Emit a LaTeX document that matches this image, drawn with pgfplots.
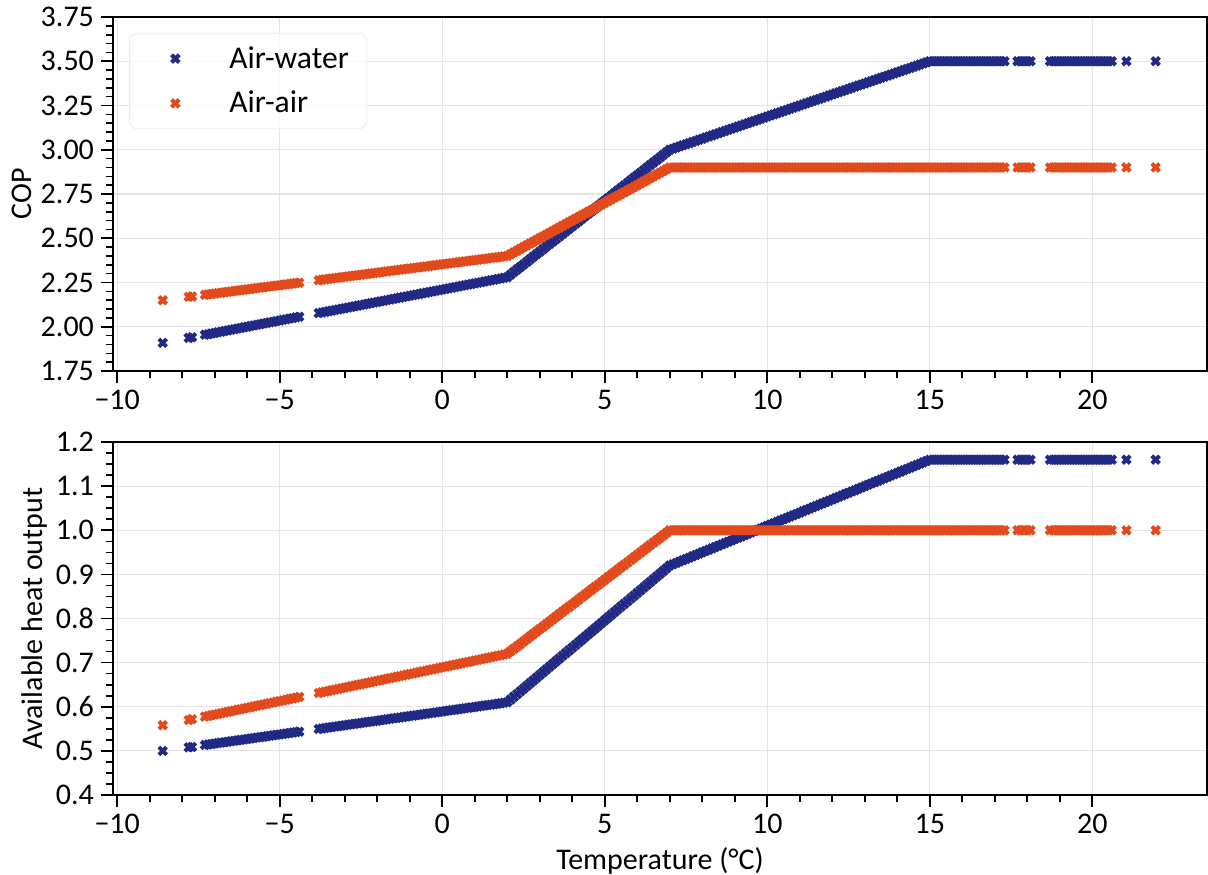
\documentclass[border=0pt]{standalone}
\usepackage{fontspec}
\setmainfont{Carlito}
\usepackage{pgfplots}
\usepackage{pgfplotstable}
\pgfplotsset{compat=1.18}
\definecolor{cblue}{RGB}{32,41,132}
\definecolor{corange}{RGB}{226,74,27}
\pgfplotstableread{
T aw aa hw ha
-8.6 1.909 2.150 0.500 0.558
-7.8 1.937 2.169 0.508 0.570
-7.7 1.941 2.171 0.509 0.572
-7.3 1.955 2.1805 0.5135 0.5777
-7.1 1.962 2.1852 0.5155 0.5808
-6.9 1.969 2.1900 0.5176 0.5838
-6.7 1.976 2.1947 0.5197 0.5869
-6.5 1.983 2.1994 0.5218 0.5900
-6.3 1.990 2.2041 0.5238 0.5930
-6.1 1.997 2.2088 0.5259 0.5961
-5.9 2.004 2.2136 0.5280 0.5991
-5.7 2.011 2.2183 0.5301 0.6022
-5.5 2.018 2.2230 0.5322 0.6053
-5.3 2.025 2.2277 0.5342 0.6083
-5.1 2.032 2.2324 0.5363 0.6114
-4.9 2.039 2.2372 0.5384 0.6144
-4.7 2.046 2.2419 0.5405 0.6175
-4.5 2.053 2.2466 0.5425 0.6206
-3.8 2.077 2.2631 0.5498 0.6313
-3.6 2.084 2.2678 0.5519 0.6343
-3.4 2.091 2.2726 0.5539 0.6374
-3.2 2.098 2.2773 0.5560 0.6404
-3.0 2.105 2.2820 0.5581 0.6435
-2.8 2.112 2.2867 0.5602 0.6466
-2.6 2.119 2.2914 0.5623 0.6496
-2.4 2.126 2.2962 0.5643 0.6527
-2.2 2.133 2.3009 0.5664 0.6557
-2.0 2.140 2.3056 0.5685 0.6588
-1.8 2.147 2.3103 0.5706 0.6619
-1.6 2.154 2.3150 0.5726 0.6649
-1.4 2.161 2.3198 0.5747 0.6680
-1.2 2.168 2.3245 0.5768 0.6710
-1.0 2.175 2.3292 0.5789 0.6741
-0.8 2.182 2.3339 0.5809 0.6772
-0.6 2.189 2.3386 0.5830 0.6802
-0.4 2.196 2.3434 0.5851 0.6833
-0.2 2.203 2.3481 0.5872 0.6863
0.0 2.210 2.3528 0.5892 0.6894
0.2 2.217 2.3575 0.5913 0.6925
0.4 2.224 2.3622 0.5934 0.6955
0.6 2.231 2.3670 0.5955 0.6986
0.8 2.238 2.3717 0.5975 0.7016
1.0 2.245 2.3764 0.5996 0.7047
1.2 2.252 2.3811 0.6017 0.7078
1.4 2.259 2.3858 0.6038 0.7108
1.6 2.266 2.3906 0.6058 0.7139
1.8 2.273 2.3953 0.6079 0.7169
2.0 2.280 2.4000 0.6100 0.7200
2.2 2.3088 2.42 0.6224 0.7312
2.4 2.3376 2.44 0.6348 0.7424
2.6 2.3664 2.46 0.6472 0.7536
2.8 2.3952 2.48 0.6596 0.7648
3.0 2.4240 2.50 0.6720 0.7760
3.2 2.4528 2.52 0.6844 0.7872
3.4 2.4816 2.54 0.6968 0.7984
3.6 2.5104 2.56 0.7092 0.8096
3.8 2.5392 2.58 0.7216 0.8208
4.0 2.5680 2.60 0.7340 0.8320
4.2 2.5968 2.62 0.7464 0.8432
4.4 2.6256 2.64 0.7588 0.8544
4.6 2.6544 2.66 0.7712 0.8656
4.8 2.6832 2.68 0.7836 0.8768
5.0 2.7120 2.70 0.7960 0.8880
5.2 2.7408 2.72 0.8084 0.8992
5.4 2.7696 2.74 0.8208 0.9104
5.6 2.7984 2.76 0.8332 0.9216
5.8 2.8272 2.78 0.8456 0.9328
6.0 2.8560 2.80 0.8580 0.9440
6.2 2.8848 2.82 0.8704 0.9552
6.4 2.9136 2.84 0.8828 0.9664
6.6 2.9424 2.86 0.8952 0.9776
6.8 2.9712 2.88 0.9076 0.9888
7.0 3.0000 2.90 0.9200 1.0000
7.2 3.0125 2.90 0.926 1.0
7.4 3.0250 2.90 0.932 1.0
7.6 3.0375 2.90 0.938 1.0
7.8 3.0500 2.90 0.944 1.0
8.0 3.0625 2.90 0.950 1.0
8.2 3.0750 2.90 0.956 1.0
8.4 3.0875 2.90 0.962 1.0
8.6 3.1000 2.90 0.968 1.0
8.8 3.1125 2.90 0.974 1.0
9.0 3.1250 2.90 0.980 1.0
9.2 3.1375 2.90 0.986 1.0
9.4 3.1500 2.90 0.992 1.0
9.6 3.1625 2.90 0.998 1.0
9.8 3.1750 2.90 1.004 1.0
10.0 3.1875 2.90 1.010 1.0
10.2 3.2000 2.90 1.016 1.0
10.4 3.2125 2.90 1.022 1.0
10.6 3.2250 2.90 1.028 1.0
10.8 3.2375 2.90 1.034 1.0
11.0 3.2500 2.90 1.040 1.0
11.2 3.2625 2.90 1.046 1.0
11.4 3.2750 2.90 1.052 1.0
11.6 3.2875 2.90 1.058 1.0
11.8 3.3000 2.90 1.064 1.0
12.0 3.3125 2.90 1.070 1.0
12.2 3.3250 2.90 1.076 1.0
12.4 3.3375 2.90 1.082 1.0
12.6 3.3500 2.90 1.088 1.0
12.8 3.3625 2.90 1.094 1.0
13.0 3.3750 2.90 1.100 1.0
13.2 3.3875 2.90 1.106 1.0
13.4 3.4000 2.90 1.112 1.0
13.6 3.4125 2.90 1.118 1.0
13.8 3.4250 2.90 1.124 1.0
14.0 3.4375 2.90 1.130 1.0
14.2 3.4500 2.90 1.136 1.0
14.4 3.4625 2.90 1.142 1.0
14.6 3.4750 2.90 1.148 1.0
14.8 3.4875 2.90 1.154 1.0
15.0 3.5000 2.90 1.160 1.0
15.2 3.5 2.9 1.16 1.0
15.4 3.5 2.9 1.16 1.0
15.6 3.5 2.9 1.16 1.0
15.8 3.5 2.9 1.16 1.0
16.0 3.5 2.9 1.16 1.0
16.2 3.5 2.9 1.16 1.0
16.4 3.5 2.9 1.16 1.0
16.6 3.5 2.9 1.16 1.0
16.8 3.5 2.9 1.16 1.0
17.0 3.5 2.9 1.16 1.0
17.2 3.5 2.9 1.16 1.0
17.3 3.5 2.9 1.16 1.0
17.7 3.5 2.9 1.16 1.0
17.9 3.5 2.9 1.16 1.0
18.1 3.5 2.9 1.16 1.0
18.7 3.5 2.9 1.16 1.0
18.9 3.5 2.9 1.16 1.0
19.1 3.5 2.9 1.16 1.0
19.3 3.5 2.9 1.16 1.0
19.5 3.5 2.9 1.16 1.0
19.7 3.5 2.9 1.16 1.0
19.9 3.5 2.9 1.16 1.0
20.1 3.5 2.9 1.16 1.0
20.3 3.5 2.9 1.16 1.0
20.5 3.5 2.9 1.16 1.0
20.6 3.5 2.9 1.16 1.0
21.05 3.5 2.9 1.16 1.0
21.95 3.5 2.9 1.16 1.0
}\datatable

\pgfplotstableread{
T aw aa hw ha
-7.2 1.958 2.1829 0.5145 0.5792
-7.0 1.965 2.1876 0.5166 0.5823
-6.8 1.972 2.1923 0.5187 0.5854
-6.6 1.979 2.1970 0.5207 0.5884
-6.4 1.986 2.2018 0.5228 0.5915
-6.2 1.993 2.2065 0.5249 0.5945
-6.0 2.000 2.2112 0.5270 0.5976
-5.8 2.007 2.2159 0.5290 0.6007
-5.6 2.014 2.2206 0.5311 0.6037
-5.4 2.021 2.2254 0.5332 0.6068
-5.2 2.028 2.2301 0.5353 0.6098
-5.0 2.035 2.2348 0.5373 0.6129
-4.8 2.042 2.2395 0.5394 0.6160
-4.6 2.049 2.2442 0.5415 0.6190
-4.4 2.056 2.2490 0.5436 0.6221
-3.7 2.0805 2.2655 0.5508 0.6328
-3.5 2.0875 2.2702 0.5529 0.6359
-3.3 2.0945 2.2749 0.5550 0.6389
-3.1 2.1015 2.2796 0.5571 0.6420
-2.9 2.1085 2.2844 0.5591 0.6450
-2.7 2.1155 2.2891 0.5612 0.6481
-2.5 2.1225 2.2938 0.5633 0.6512
-2.3 2.1295 2.2985 0.5654 0.6542
-2.1 2.1365 2.3032 0.5674 0.6573
-1.9 2.1435 2.3080 0.5695 0.6603
-1.7 2.1505 2.3127 0.5716 0.6634
-1.5 2.1575 2.3174 0.5737 0.6665
-1.3 2.1645 2.3221 0.5757 0.6695
-1.1 2.1715 2.3268 0.5778 0.6726
-0.9 2.1785 2.3316 0.5799 0.6756
-0.7 2.1855 2.3363 0.5820 0.6787
-0.5 2.1925 2.3410 0.5841 0.6818
-0.3 2.1995 2.3457 0.5861 0.6848
-0.1 2.2065 2.3504 0.5882 0.6879
0.1 2.2135 2.3552 0.5903 0.6909
0.3 2.2205 2.3599 0.5924 0.6940
0.5 2.2275 2.3646 0.5944 0.6971
0.7 2.2345 2.3693 0.5965 0.7001
0.9 2.2415 2.3740 0.5986 0.7032
1.1 2.2485 2.3788 0.6007 0.7062
1.3 2.2555 2.3835 0.6027 0.7093
1.5 2.2625 2.3882 0.6048 0.7124
1.7 2.2695 2.3929 0.6069 0.7154
1.9 2.2765 2.3976 0.6090 0.7185
2.1 2.2944 2.41 0.6162 0.7256
2.3 2.3232 2.43 0.6286 0.7368
2.5 2.3520 2.45 0.6410 0.7480
2.7 2.3808 2.47 0.6534 0.7592
2.9 2.4096 2.49 0.6658 0.7704
3.1 2.4384 2.51 0.6782 0.7816
3.3 2.4672 2.53 0.6906 0.7928
3.5 2.4960 2.55 0.7030 0.8040
3.7 2.5248 2.57 0.7154 0.8152
3.9 2.5536 2.59 0.7278 0.8264
4.1 2.5824 2.61 0.7402 0.8376
4.3 2.6112 2.63 0.7526 0.8488
4.5 2.6400 2.65 0.7650 0.8600
4.7 2.6688 2.67 0.7774 0.8712
4.9 2.6976 2.69 0.7898 0.8824
5.1 2.7264 2.71 0.8022 0.8936
5.3 2.7552 2.73 0.8146 0.9048
5.5 2.7840 2.75 0.8270 0.9160
5.7 2.8128 2.77 0.8394 0.9272
5.9 2.8416 2.79 0.8518 0.9384
6.1 2.8704 2.81 0.8642 0.9496
6.3 2.8992 2.83 0.8766 0.9608
6.5 2.9280 2.85 0.8890 0.9720
6.7 2.9568 2.87 0.9014 0.9832
6.9 2.9856 2.89 0.9138 0.9944
7.1 3.0063 2.90 0.923 1.0
7.3 3.0188 2.90 0.929 1.0
7.5 3.0313 2.90 0.935 1.0
7.7 3.0438 2.90 0.941 1.0
7.9 3.0563 2.90 0.947 1.0
8.1 3.0688 2.90 0.953 1.0
8.3 3.0813 2.90 0.959 1.0
8.5 3.0938 2.90 0.965 1.0
8.7 3.1063 2.90 0.971 1.0
8.9 3.1188 2.90 0.977 1.0
9.1 3.1313 2.90 0.983 1.0
9.3 3.1438 2.90 0.989 1.0
9.5 3.1563 2.90 0.995 1.0
9.7 3.1688 2.90 1.001 1.0
9.9 3.1813 2.90 1.007 1.0
10.1 3.1938 2.90 1.013 1.0
10.3 3.2063 2.90 1.019 1.0
10.5 3.2188 2.90 1.025 1.0
10.7 3.2313 2.90 1.031 1.0
10.9 3.2438 2.90 1.037 1.0
11.1 3.2563 2.90 1.043 1.0
11.3 3.2688 2.90 1.049 1.0
11.5 3.2813 2.90 1.055 1.0
11.7 3.2938 2.90 1.061 1.0
11.9 3.3063 2.90 1.067 1.0
12.1 3.3188 2.90 1.073 1.0
12.3 3.3313 2.90 1.079 1.0
12.5 3.3438 2.90 1.085 1.0
12.7 3.3563 2.90 1.091 1.0
12.9 3.3688 2.90 1.097 1.0
13.1 3.3813 2.90 1.103 1.0
13.3 3.3938 2.90 1.109 1.0
13.5 3.4063 2.90 1.115 1.0
13.7 3.4188 2.90 1.121 1.0
13.9 3.4313 2.90 1.127 1.0
14.1 3.4438 2.90 1.133 1.0
14.3 3.4563 2.90 1.139 1.0
14.5 3.4688 2.90 1.145 1.0
14.7 3.4813 2.90 1.151 1.0
14.9 3.4938 2.90 1.157 1.0
15.1 3.5 2.9 1.16 1.0
15.3 3.5 2.9 1.16 1.0
15.5 3.5 2.9 1.16 1.0
15.7 3.5 2.9 1.16 1.0
15.9 3.5 2.9 1.16 1.0
16.1 3.5 2.9 1.16 1.0
16.3 3.5 2.9 1.16 1.0
16.5 3.5 2.9 1.16 1.0
16.7 3.5 2.9 1.16 1.0
16.9 3.5 2.9 1.16 1.0
17.1 3.5 2.9 1.16 1.0
17.8 3.5 2.9 1.16 1.0
18.0 3.5 2.9 1.16 1.0
18.8 3.5 2.9 1.16 1.0
19.0 3.5 2.9 1.16 1.0
19.2 3.5 2.9 1.16 1.0
19.4 3.5 2.9 1.16 1.0
19.6 3.5 2.9 1.16 1.0
19.8 3.5 2.9 1.16 1.0
20.0 3.5 2.9 1.16 1.0
20.2 3.5 2.9 1.16 1.0
20.4 3.5 2.9 1.16 1.0
}\datatableb

\pgfplotsset{
  myaxis/.style={
    scale only axis,
    width=547pt,
    xmin=-10.13, xmax=23.53,
    xtick={-10,-5,0,5,10,15,20},
    xticklabels={−10,−5,0,5,10,15,20},
    minor x tick num=4,
    xtick pos=bottom, ytick pos=left,
    tick align=outside,
    major tick length=6pt,
    minor tick length=3.5pt,
    every tick/.style={black, line width=0.8pt},
    axis line style={line width=1pt},
    grid=major,
    major grid style={gray!20, line width=0.6pt},
    /pgf/number format/assume math mode=true,
    tick label style={font=\fontsize{15}{18}\selectfont},
    label style={font=\fontsize{15}{18}\selectfont},
    ylabel shift=-2.5pt,
  },
  mkaw/.style={only marks, mark=x, mark size=2.7pt, line width=2pt, color=cblue},
  mkaa/.style={only marks, mark=x, mark size=2.7pt, line width=2pt, color=corange},
  mylegimg/.style={legend image code/.code={\path (0pt,0pt) (39pt,0pt); \draw[##1] plot coordinates {(15pt,0pt)};}},
}

\begin{document}
\begin{tikzpicture}
\begin{axis}[myaxis,
  at={(0pt,212pt)}, anchor=south west,
  height=177pt,
  ymin=1.75, ymax=3.75,
  ytick={1.75,2.00,2.25,2.50,2.75,3.00,3.25,3.50,3.75},
  yticklabels={1.75,2.00,2.25,2.50,2.75,3.00,3.25,3.50,3.75},
  minor y tick num=4,
  ylabel={COP},
  legend style={at={(rel axis cs:0.0146,0.955)}, anchor=north west,
    draw=gray!15, rounded corners=4pt, fill=white, fill opacity=0.8, text opacity=1,
    font=\fontsize{15.8}{19}\selectfont,
    inner xsep=7pt, inner ysep=4.5pt, row sep=6pt},
  legend cell align=left,
  mylegimg,
]
\addplot[mkaw] table[x=T, y=aw] {\datatable};
\addlegendentry{Air-water}
\addplot[mkaw, forget plot] table[x=T, y=aw] {\datatableb};
\addplot[mkaa] table[x=T, y=aa] {\datatable};
\addlegendentry{Air-air}
\addplot[mkaa, forget plot] table[x=T, y=aa] {\datatableb};
\end{axis}
\begin{axis}[myaxis,
  at={(0pt,0pt)}, anchor=south west,
  height=176.5pt,
  ymin=0.4, ymax=1.2,
  ytick={0.4,0.5,0.6,0.7,0.8,0.9,1.0,1.1,1.2},
  yticklabels={0.4,0.5,0.6,0.7,0.8,0.9,1.0,1.1,1.2},
  minor y tick num=3,
  ylabel={Available heat output},
  xlabel={Temperature (°C)},
]
\addplot[mkaw] table[x=T, y=hw] {\datatable};
\addplot[mkaw] table[x=T, y=hw] {\datatableb};
\addplot[mkaa] table[x=T, y=ha] {\datatable};
\addplot[mkaa] table[x=T, y=ha] {\datatableb};
\end{axis}
\pgfresetboundingbox
\path (-56.5pt,-39.5pt) rectangle (547.5pt,397.5pt);
\end{tikzpicture}
\end{document}
